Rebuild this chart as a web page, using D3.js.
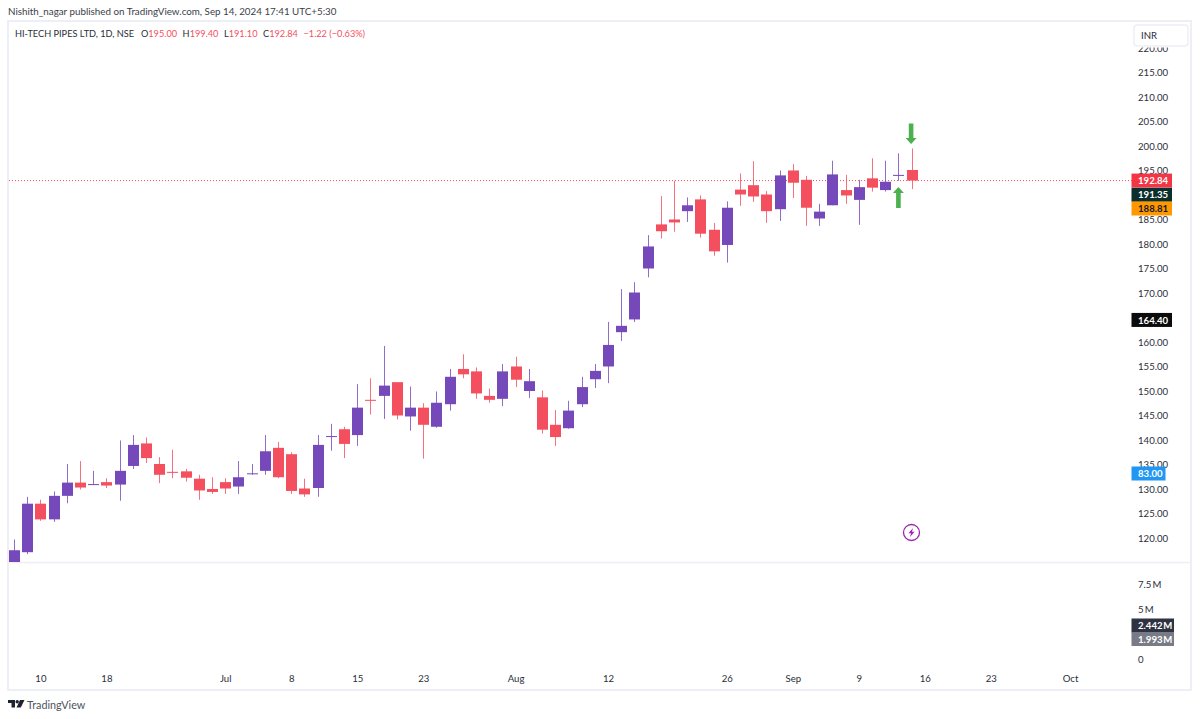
<!DOCTYPE html>
<html><head><meta charset="utf-8">
<style>
html,body{margin:0;padding:0;background:#fff}
svg{display:block}
text{font-family:"Lato","Open Sans",sans-serif}
</style>
<script src="https://cdn.jsdelivr.net/npm/d3@7"></script>
</head><body><svg id="c" width="1200" height="719"></svg>
<script>
const opens=[115.0,117.0,126.9,123.7,128.5,131.2,130.7,131.3,130.8,134.6,139.2,135.0,133.4,133.5,132.0,129.9,131.3,130.4,132.9,133.6,138.3,137.0,130.0,130.1,140.5,142.1,140.9,148.1,148.9,151.7,144.7,146.5,142.6,147.2,154.4,153.9,148.9,148.3,154.9,149.9,148.6,143.0,142.3,147.2,152.3,154.9,161.9,164.5,174.9,183.9,184.9,186.6,189.0,182.8,179.7,191.0,191.9,190.0,187.0,194.9,193.0,185.1,187.8,190.9,188.9,193.3,190.9,193.8,195.0];
const highs=[119.6,128.3,127.7,129.4,135.0,135.6,133.6,132.1,139.8,140.9,140.4,136.4,137.9,134.0,132.8,132.3,132.1,135.6,135.0,140.9,139.5,137.4,132.0,140.9,143.2,142.6,151.3,152.5,159.1,151.7,150.8,147.4,149.8,154.4,157.4,154.7,150.4,155.4,156.9,154.4,150.0,146.0,147.9,152.8,155.4,164.0,170.7,172.1,181.7,189.7,192.8,189.4,189.8,184.2,188.6,194.3,196.8,190.7,194.9,196.2,193.8,188.1,196.9,194.0,193.0,197.4,196.9,198.4,199.4];
const lows=[115.0,116.6,123.4,123.2,127.0,129.8,130.7,130.1,127.5,134.0,135.2,131.1,132.1,131.4,127.7,128.9,128.9,128.9,132.8,132.8,132.1,128.9,128.3,128.3,137.7,136.2,138.7,145.1,144.2,144.1,141.8,136.1,142.4,145.9,152.5,148.3,147.5,146.8,150.7,148.5,141.2,138.7,142.2,146.6,150.5,151.5,160.1,164.0,173.1,181.0,182.4,184.4,181.2,177.5,176.1,187.7,188.5,184.2,184.6,189.3,183.6,183.6,187.8,188.1,183.8,190.6,190.6,192.8,191.1];
const closes=[117.4,126.9,123.7,128.5,131.2,130.2,130.9,130.6,133.6,138.9,136.2,132.8,133.2,132.2,129.6,129.3,130.0,132.3,133.1,137.6,132.3,129.5,128.8,138.9,140.7,139.1,146.5,147.9,151.0,144.9,146.5,143.0,147.5,152.8,153.3,149.4,148.1,153.9,152.2,151.9,142.0,140.5,145.9,150.7,154.0,159.3,163.2,170.0,179.4,182.5,184.3,187.8,182.0,178.4,187.3,190.0,189.6,186.6,193.9,192.4,187.3,186.5,194.1,189.8,191.5,191.4,192.6,194.0,192.84];
const priceTicks=[120,125,130,135,140,145,150,155,160,170,175,180,185,195,200,205,210,215,220];
const volumeTicks=[[0,"0"],[5,"5"],[7.5,"7.5"]];
const dateTicks=[[2,"10"],[7,"18"],[16,"Jul"],[21,"8"],[26,"15"],[31,"23"],[38,"Aug"],[45,"12"],[54,"26"],[59,"Sep"],[64,"9"],[69,"16"],[74,"23"],[80,"Oct"]];
const legendParts=[["O","195.00"],["H","199.40"],["L","191.10"],["C","192.84"]];
const priceTags=[[192.84,"192.84","#f23645","#fff",0],[191.35,"191.35","#0b2f2c","#fff",0],[188.81,"188.81","#ff9800","#131722",0],[164.40,"164.40","#0c0c0c","#fff",0],[83,"83.00","#2196f3","#fff",473.5]];
const upColor="#7649bb",downColor="#f44f5e",frameColor="#eeeef6",textColor="#2a2e39";
const axisFont=9.6;

const svg=d3.select("#c");
const x=d3.scaleLinear().domain([0,68]).range([14,911.6]);
const y=d3.scaleLinear().domain([120,215]).range([537.5,72]);
const v=d3.scaleLinear().domain([0,5]).range([658.5,609]);

svg.append("defs").append("clipPath").attr("id","pane").append("rect").attr("x",9).attr("y",47).attr("width",1182).attr("height",515.5);

// frame
const f=svg.append("g").attr("stroke",frameColor).attr("stroke-width",2).attr("fill","none");
f.append("rect").attr("x",8).attr("y",21).attr("width",1183).attr("height",669);
f.append("line").attr("x1",8).attr("x2",1191).attr("y1",562.5).attr("y2",562.5).attr("stroke-width",1.5);

// last price line
svg.append("line").attr("x1",9).attr("x2",1132).attr("y1",y(192.84)).attr("y2",y(192.84))
  .attr("stroke",downColor).attr("stroke-width",1).attr("stroke-dasharray","1 2");

// candles
const candles=svg.append("g").attr("clip-path","url(#pane)").selectAll("g").data(d3.range(opens.length)).join("g");
const col=i=>closes[i]>=opens[i]?upColor:downColor;
candles.append("line").attr("x1",i=>Math.round(x(i))+.5).attr("x2",i=>Math.round(x(i))+.5)
  .attr("y1",i=>y(highs[i])).attr("y2",i=>y(lows[i])).attr("stroke",col).attr("stroke-width",1).attr("stroke-opacity",.8);
candles.append("rect").attr("x",i=>Math.round(x(i))-5).attr("width",11)
  .attr("y",i=>y(Math.max(opens[i],closes[i])))
  .attr("height",i=>Math.max(1,Math.abs(y(opens[i])-y(closes[i])))).attr("fill",col);

// price axis
const pa=svg.append("g").attr("transform","translate(1134,0.5)").attr("clip-path","url(#axisclip)")
  .call(d3.axisRight(y).tickValues(priceTicks).tickSize(0).tickPadding(4).tickFormat(d3.format(".2f")));
d3.select("defs").append("clipPath").attr("id","axisclip").append("rect").attr("x",-10).attr("y",47).attr("width",70).attr("height",520);
pa.select(".domain").remove();
pa.selectAll("text").attr("font-size",axisFont).attr("fill",textColor).style("font-family","Lato");

// volume axis
const va=svg.append("g").attr("transform","translate(1134,0.5)")
  .call(d3.axisRight(v).tickValues(volumeTicks.map(d=>d[0])).tickSize(0).tickPadding(4)
  .tickFormat(d=>{const t=volumeTicks.find(q=>q[0]===d);return d===0?t[1]:t[1]+"\u2009M";}));
va.select(".domain").remove();
va.selectAll("text").attr("font-size",axisFont).attr("fill",textColor).style("font-family","Lato");

// date axis
const da=svg.append("g").attr("transform","translate(0,675.5)")
  .call(d3.axisBottom(x).tickValues(dateTicks.map(d=>d[0])).tickSize(0).tickPadding(0)
  .tickFormat(d=>dateTicks.find(q=>q[0]===d)[1]));
da.select(".domain").remove();
da.selectAll("text").attr("font-size",axisFont).attr("fill",textColor).style("font-family","Lato");

// INR box
svg.append("rect").attr("x",1134).attr("y",25).attr("width",54).attr("height",21).attr("rx",3).attr("fill","#fff").attr("stroke",frameColor).attr("stroke-width",1.5);
svg.append("text").attr("x",1141).attr("y",39).attr("font-size",axisFont).attr("fill",textColor).text("INR");

// price tags
const tags=svg.append("g").selectAll("g").data(priceTags).join("g")
  .attr("transform",d=>`translate(1131.5,${d[4]||(d[0]===191.35?194.8:d[0]===188.81?208.5:y(d[0]))})`);
tags.append("rect").attr("x",0).attr("y",-7).attr("width",d=>d[1].length>5?40.5:34).attr("height",14).attr("fill",d=>d[2]);
tags.append("text").attr("x",6.5).attr("y",3.6).attr("font-size",axisFont).attr("font-weight",700).attr("fill",d=>d[3]).text(d=>d[1]);

// volume tags
const volTags=[[2.442,"2.442\u200AM","#2f3240",625.5],[1.993,"1.993\u200AM","#787b86",639]];
const vt=svg.append("g").selectAll("g").data(volTags).join("g").attr("transform",d=>`translate(1131.5,${d[3]})`);
vt.append("rect").attr("y",-7).attr("width",42.5).attr("height",14).attr("fill",d=>d[2]);
vt.append("text").attr("x",6.5).attr("y",3.6).attr("font-size",axisFont).attr("font-weight",700).attr("fill","#fff").text(d=>d[1]);

// header + legend
svg.append("text").attr("x",8).attr("y",15).attr("font-size",9.8).attr("fill","#3a3e49").text("Nishith_nagar published on TradingView.com, Sep 14, 2024 17:41 UTC+5:30");
const lg=svg.append("text").attr("x",15).attr("y",37).attr("font-size",9.2).attr("fill",textColor);
lg.append("tspan").text("HI-TECH PIPES LTD, 1D, NSE");
legendParts.forEach((p,i)=>{
  lg.append("tspan").attr("dx",i?5.5:7).text(p[0]);
  lg.append("tspan").attr("fill",downColor).text(p[1]);
});
lg.append("tspan").attr("dx",5.5).attr("fill",downColor).text("\u22121.22 (\u22120.63%)");

// arrows
const arrow=svg.append("g").attr("fill","#4caf50").attr("stroke","none");
function drawArrow(cx,tipY,tailY){
  const d=tipY<tailY?1:-1;
  arrow.append("path").attr("d",`M${cx},${tipY}L${cx+5.5},${tipY+d*6}H${cx+2.3}V${tailY}H${cx-2.3}V${tipY+d*6}H${cx-5.5}Z`);
}
drawArrow(x(68)-.5,144,123.5);
drawArrow(x(67),187,208);

// lightning icon
const ic=svg.append("g").attr("transform","translate(911.5,532.5)");
ic.append("circle").attr("r",8).attr("fill","none").attr("stroke","#9c27b0").attr("stroke-width",1.3);
ic.append("path").attr("d","M1.5,-4.5L-3,0.8H-0.5L-1.5,4.5L3,-0.8H0.5Z").attr("fill","#9c27b0");

// logo
const lo=svg.append("g").attr("transform","translate(8,700)").attr("fill","#1e222d");
lo.append("path").attr("d","M0,0H7V7.5H3.5V3H0Z");
lo.append("circle").attr("cx",9.2).attr("cy",1.7).attr("r",1.7);
lo.append("path").attr("d","M12,0H16.5L12.8,7.5H8.5Z");
svg.append("text").attr("x",27).attr("y",708.5).attr("font-size",10.8).attr("fill","#50535e").text("TradingView");
</script></body></html>
